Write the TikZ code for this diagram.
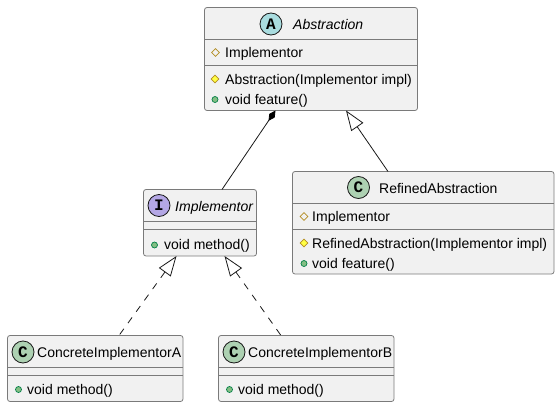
\documentclass[tikz,border=0pt]{standalone}
\usepackage{fontspec}
\setmainfont{Liberation Sans}
\newfontfamily\iconfont{Liberation Mono}
\usetikzlibrary{arrows.meta,shapes.geometric}
\definecolor{boxfill}{HTML}{F1F1F1}
\definecolor{boxline}{HTML}{7A7A7A}
\definecolor{inkline}{HTML}{181818}
\definecolor{iconA}{HTML}{A9DCDF}
\definecolor{iconC}{HTML}{ADD1B2}
\definecolor{iconI}{HTML}{B4A7E5}
\definecolor{markline}{HTML}{B38D22}
\definecolor{markfill}{HTML}{FFFF44}
\definecolor{publine}{HTML}{038048}
\definecolor{pubfill}{HTML}{84BE84}
\tikzset{
  umlbox/.style={draw=boxline,fill=boxfill,line width=.8pt,rounded corners=2.5pt,anchor=north west,inner sep=0pt,outer sep=0pt},
  sepline/.style={draw=boxline,line width=.8pt},
  badge/.style={circle,draw=inkline,line width=.8pt,minimum size=22pt,inner sep=0pt,font=\iconfont\bfseries\fontsize{16}{16}\selectfont},
  label/.style={anchor=base west,inner sep=0pt,font=\fontsize{14}{16}\selectfont,text=black},
  title/.style={label},
  ititle/.style={label,font=\fontsize{14}{16}\selectfont\itshape},
  protfield/.style={diamond,draw=markline,line width=.7pt,minimum size=8pt,inner sep=0pt},
  protmethod/.style={diamond,draw=markline,fill=markfill,line width=.7pt,minimum size=8pt,inner sep=0pt},
  pubmethod/.style={circle,draw=publine,fill=pubfill,line width=.7pt,minimum size=6pt,inner sep=0pt},
  link/.style={draw=inkline,line width=.8pt},
  composed/.style={link,{Diamond[length=12.5pt,width=6.5pt,fill=black,color=black]}-},
  extends/.style={link,{Triangle[open,length=20pt,width=14.5pt,fill=white,color=inkline]}-},
  realizes/.style={extends,dash pattern=on 7pt off 7pt},
}
\begin{document}
\begin{tikzpicture}[x=1pt,y=-1pt]
\useasboundingbox (0,0) rectangle (560,407);
% boxes
\node[umlbox,minimum width=213pt,minimum height=103pt] (abs) at (204.5,7.5) {};
\node[umlbox,minimum width=261.5pt,minimum height=102.5pt] (ref) at (292.5,171.5) {};
\node[umlbox,minimum width=113pt,minimum height=66.5pt] (imp) at (143.5,189.5) {};
\node[umlbox,minimum width=175.5pt,minimum height=66pt] (cona) at (7.5,335.5) {};
\node[umlbox,minimum width=175.5pt,minimum height=66pt] (conb) at (218.5,335.5) {};
% compartments
\draw[sepline] ([yshift=-32pt]abs.north west) -- ([yshift=-32pt]abs.north east);
\draw[sepline] ([yshift=-58pt]abs.north west) -- ([yshift=-58pt]abs.north east);
\draw[sepline] ([yshift=-32pt]ref.north west) -- ([yshift=-32pt]ref.north east);
\draw[sepline] ([yshift=-58pt]ref.north west) -- ([yshift=-58pt]ref.north east);
\draw[sepline] ([yshift=-32pt]imp.north west) -- ([yshift=-32pt]imp.north east);
\draw[sepline] ([yshift=-40pt]imp.north west) -- ([yshift=-40pt]imp.north east);
\draw[sepline] ([yshift=-32pt]cona.north west) -- ([yshift=-32pt]cona.north east);
\draw[sepline] ([yshift=-40pt]cona.north west) -- ([yshift=-40pt]cona.north east);
\draw[sepline] ([yshift=-32pt]conb.north west) -- ([yshift=-32pt]conb.north east);
\draw[sepline] ([yshift=-40pt]conb.north west) -- ([yshift=-40pt]conb.north east);
% Abstraction
\node[badge,fill=iconA] (absi) at (271,24) {A};
\node[ititle] (abst) at (293,29) {Abstraction};
\node[protfield] (absm1) at (215.5,52.5) {};
\node[label] (abs1) at (225,57.5) {Implementor};
\node[protmethod] (absm2) at (215,79) {};
\node[label] (abs2) at (225,84.5) {Abstraction(Implementor impl)};
\node[pubmethod] (absm3) at (215,99.5) {};
\node[label] (abs3) at (225,104) {void feature()};
% RefinedAbstraction
\node[badge,fill=iconC] (refi) at (358.5,187.5) {C};
\node[title] (reft) at (379,193) {RefinedAbstraction};
\node[protfield] (refm1) at (304,216.5) {};
\node[label] (ref1) at (312,221.5) {Implementor};
\node[protmethod] (refm2) at (304,243) {};
\node[label] (ref2) at (312,248.5) {RefinedAbstraction(Implementor impl)};
\node[pubmethod] (refm3) at (304,263.5) {};
\node[label] (ref3) at (312,268) {void feature()};
% Implementor
\node[badge,fill=iconI] (impi) at (159,205.5) {I};
\node[ititle] (impt) at (175,211) {Implementor};
\node[pubmethod] (impm1) at (154.5,245) {};
\node[label] (imp1) at (164,249.5) {void method()};
% ConcreteImplementorA
\node[badge,fill=iconC] (conai) at (23,352) {C};
\node[title] (conat) at (37,357.5) {ConcreteImplementorA};
\node[pubmethod] (conam1) at (18.5,389.5) {};
\node[label] (cona1) at (27,394) {void method()};
% ConcreteImplementorB
\node[badge,fill=iconC] (conbi) at (234,352) {C};
\node[title] (conbt) at (248,357.5) {ConcreteImplementorB};
\node[pubmethod] (conbm1) at (229.5,389.5) {};
\node[label] (conb1) at (238,394) {void method()};
% connectors
\draw[composed] ([xshift=71pt]abs.south west) -- ([xshift=78.5pt]imp.north west);
\draw[extends] ([xshift=141.5pt]abs.south west) -- ([xshift=95.5pt]ref.north west);
\draw[realizes] ([xshift=33pt]imp.south west) -- ([xshift=111.5pt]cona.north west);
\draw[realizes] ([xshift=81pt]imp.south west) -- ([xshift=62.5pt]conb.north west);
\end{tikzpicture}
\end{document}
